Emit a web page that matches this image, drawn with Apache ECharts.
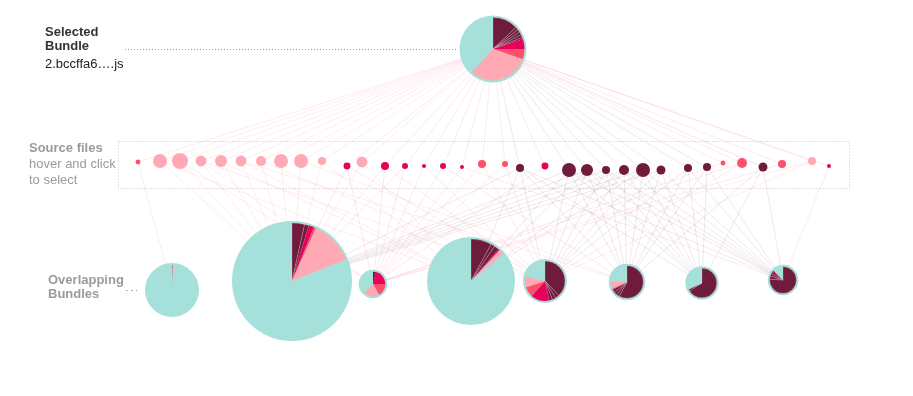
<!DOCTYPE html>
<html><head><meta charset="utf-8">
<script src="https://cdn.jsdelivr.net/npm/echarts@6/dist/echarts.min.js"></script>
<style>html,body{margin:0;padding:0;background:#fff}#c{width:913px;height:396px}</style>
</head><body><div id="c"></div>
<script>
// ---- source files ----
const fileX = [138,160,180,201,221,241,261,281,301,322,347,362,385,405,424,443,462,482,505,520,545,569,587,606,624,643,661,688,707,723,742,763,782,812,829];
const fileY = [162,161,161,161,161,161,161,161,161,161,166,162,166,166,166,166,167,164,164,168,166,170,170,170,170,170,170,168,167,163,163,167,164,161,166];
const fileSize = [6,49,64,30,36,30,25,49,49,16,12,30,16,9,4,9,4,16,9,16,12,49,36,16,25,49,20,16,16,6,25,20,16,16,4];
const fileGroup = ['c','p','p','p','p','p','p','p','p','p','m','p','m','m','m','m','m','c','c','d','m','d','d','d','d','d','d','d','d','c','c','d','c','p','m'];

// ---- selected bundle ----
const selectedName = '2.bccffa6….js';
const selectedX = 493, selectedY = 49, selectedSize = 1122;
const selectedShares = [20, 5, 5.3, 31.7, 38]; // d, m, c, p, other
const selectedDarkParts = [13, 1.5, 1.5, 1.5, 1.5, 1];

// ---- overlapping bundles ----
const bundleX = [172, 292, 373, 471, 545, 627, 702, 783];
const bundleY = [290, 281, 284, 281, 281, 282, 283, 280];
const bundleSize = [729, 3600, 204, 1936, 484, 335, 279, 234];
const bundleShares = [
  [0, 0, 0.6, 0, 99.4],
  [4.7, 1.5, 0.6, 12.2, 81],
  [4, 21, 17, 21, 37],
  [11.4, 0.5, 0, 2, 86.1],
  [46.7, 14.9, 8.3, 9.2, 20.9],
  [67, 1, 0, 7.5, 24.5],
  [68, 0, 0, 0, 32],
  [86, 1.5, 0, 0, 12.5]
];
const bundleDarkParts = [
  [],
  [3.5, 1.2],
  [4],
  [8, 1.5, 1.9],
  [38, 3, 3, 2.7],
  [58, 3, 3, 3],
  [66, 2],
  [76, 4, 3, 3]
];
const bundleFiles = [
  [0],
  [1,2,3,4,5,6,7,8,9,10,11,12,13,19,21,22,23,24,25,26],
  [2,3,10,12,13,14,15,16,17,18,20,29,30,32,33],
  [1,4,5,9,11,19,21,22,24,25],
  [3,6,10,12,14,17,18,19,21,22,23,24,25,26,27,30,33],
  [5,8,15,19,21,22,23,24,25,26,27,28,31],
  [19,21,22,23,24,25,26,27,28,31],
  [16,19,21,22,23,24,25,26,27,28,31,34]
];

const groupOrder = ['d','m','c','p','t'];
const colors = {d:'#6e1b3c', m:'#e8005a', c:'#ff4f69', p:'#ffa9b4', t:'#a6e0da'};
const lineColors = {d:'rgba(110,27,60,0.2)', m:'rgba(240,80,120,0.26)', c:'rgba(255,90,110,0.26)', p:'rgba(255,150,170,0.36)'};
const FONT = '"Liberation Sans", Arial, sans-serif';

const chart = echarts.init(document.getElementById('c'));
chart.setOption({
  animation: false,
  grid: {left:0, right:0, top:0, bottom:0},
  xAxis: {type:'value', min:0, max:913, show:false},
  yAxis: {type:'value', min:0, max:396, inverse:true, show:false}
});
const px = (x, y) => chart.convertToPixel({gridIndex:0}, [x, y]);

// links
const topLinks = fileX.map((x, i) => ({
  coords: [[selectedX, selectedY], [x, fileY[i]]],
  lineStyle: {color: lineColors[fileGroup[i]]}
}));
const bottomLinks = [];
bundleFiles.forEach((files, b) => files.forEach(i => bottomLinks.push({
  coords: [[fileX[i], fileY[i]], [bundleX[b], bundleY[b]]],
  lineStyle: {color: lineColors[fileGroup[i]]}
})));

function pieSeries(cx, cy, size, shares, darkParts) {
  const R = Math.sqrt(size);
  const c = px(cx, cy);
  const data = [];
  shares.forEach((v, k) => {
    if (v <= 0) return;
    if (k === 0 && darkParts.length > 1) {
      darkParts.forEach(p => data.push({value: p, itemStyle: {color: colors.d, borderColor:'rgba(255,200,215,0.45)', borderWidth:0.6}}));
    } else {
      data.push({value: v, itemStyle: {color: colors[groupOrder[k]]}});
    }
  });
  const common = {type:'pie', center: c, silent:true, label:{show:false}, labelLine:{show:false},
    startAngle: 90, clockwise: true, animation:false, emphasis:{disabled:true}, minAngle:0};
  return [
    Object.assign({}, common, {radius: R, z: 5, data: [{value:1, itemStyle:{color: colors.t}}]}),
    Object.assign({}, common, {radius: R - 2, z: 6, data: data})
  ];
}

const series = [
  {type:'lines', coordinateSystem:'cartesian2d', silent:true, z:1, data: topLinks, lineStyle:{width:1}},
  {type:'lines', coordinateSystem:'cartesian2d', silent:true, z:1, data: bottomLinks, lineStyle:{width:1}},
  {type:'scatter', z:3, silent:true,
   data: fileX.map((x, i) => ({value:[x, fileY[i], fileSize[i]], itemStyle:{color: colors[fileGroup[i]], opacity:1}})),
   symbolSize: v => 2 * Math.sqrt(v[2])}
];
series.push(...pieSeries(selectedX, selectedY, selectedSize, selectedShares, selectedDarkParts));
bundleX.forEach((x, b) => series.push(...pieSeries(x, bundleY[b], bundleSize[b], bundleShares[b], bundleDarkParts[b])));

const txt = (x, y, text, bold, fill) => ({type:'text', x, y, z:10,
  style:{text, font:(bold ? 'bold ' : '') + '13px ' + FONT, fill, verticalAlign:'middle', align:'left'}});

chart.setOption({
  series,
  graphic: [
    txt(45, 32, 'Selected', true, '#333'),
    txt(45, 46, 'Bundle', true, '#333'),
    txt(45, 64, selectedName, false, '#222'),
    {type:'line', shape:{x1:125, y1:49.5, x2:456, y2:49.5}, style:{stroke:'#999', lineWidth:1, lineDash:[1,2]}},
    txt(29, 148, 'Source files', true, '#9b9b9b'),
    txt(29, 164, 'hover and click', false, '#9b9b9b'),
    txt(29, 180, 'to select', false, '#9b9b9b'),
    {type:'rect', shape:{x:118.5, y:141.5, width:731, height:47}, z:0,
     style:{fill:'transparent', stroke:'#c4c4c4', lineWidth:1, lineDash:[1,2]}},
    txt(48, 280, 'Overlapping', true, '#9b9b9b'),
    txt(48, 294, 'Bundles', true, '#9b9b9b'),
    {type:'line', shape:{x1:126, y1:290.5, x2:137, y2:290.5}, style:{stroke:'#999', lineWidth:1, lineDash:[1.5,3.5]}}
  ]
});
</script></body></html>
